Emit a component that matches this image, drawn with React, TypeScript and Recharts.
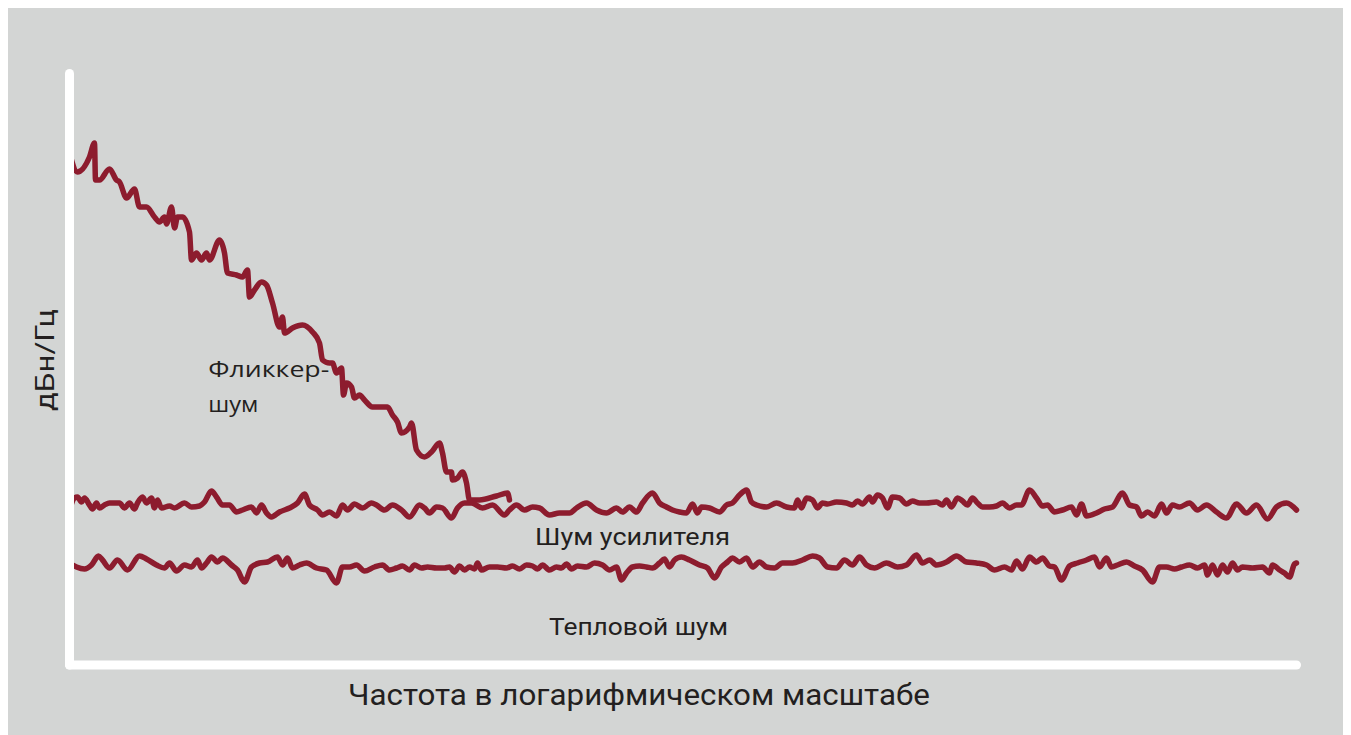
import { Line, LineChart, XAxis, YAxis } from "recharts";

// x: position along the log-frequency axis, y: noise level (arbitrary units)
const flickerX = [
  0, 8, 20, 25, 26, 30, 40, 47, 50, 57, 65, 70, 77, 85, 90, 95, 97, 102, 105, 108,
  113, 120, 122, 127, 132, 137, 140, 150, 155, 158, 167, 173, 178, 180, 185, 192, 197, 203, 210, 213,
  215, 223, 233, 243, 250, 253, 260, 263, 267, 272, 274, 277, 282, 285, 290, 295, 303, 318, 323, 328,
  332, 340, 342, 347, 355, 362, 370, 373, 377, 382, 383, 388, 393, 397, 400, 410, 427, 438, 440,
];
const flickerY = [
  512, 493, 508, 522, 485, 485, 496, 485, 483, 467, 476, 458, 458, 448, 443, 448, 441, 458, 437, 448,
  448, 433, 405, 412, 405, 412, 405, 425, 412, 392, 390, 388, 395, 368, 375, 383, 380, 362, 338, 348,
  332, 337, 340, 333, 322, 305, 302, 302, 292, 297, 270, 282, 278, 267, 270, 265, 258, 258, 250, 243,
  232, 238, 242, 215, 208, 213, 222, 212, 193, 193, 185, 187, 193, 182, 165, 165, 169, 172, 165,
];

const ampX = [
  0, 5, 8, 12, 15, 20, 23, 27, 30, 35, 40, 50, 55, 60, 65, 68, 73, 77, 82, 85,
  88, 92, 100, 105, 115, 122, 130, 135, 142, 147, 153, 160, 167, 173, 182, 187, 192, 197, 202, 210,
  220, 228, 235, 240, 248, 253, 260, 267, 273, 278, 285, 293, 302, 307, 315, 323, 332, 340, 350, 355,
  360, 367, 373, 382, 388, 395, 402, 413, 423, 435, 440, 447, 455, 463, 470, 480, 490, 500, 507, 517,
  527, 537, 547, 553, 560, 567, 573, 583, 590, 597, 603, 610, 617, 623, 628, 632, 640, 650, 657, 663,
  670, 677, 682, 687, 697, 707, 717, 725, 728, 732, 737, 743, 748, 753, 758, 767, 777, 783, 788, 793,
  800, 803, 808, 813, 818, 823, 830, 837, 843, 850, 857, 867, 873, 877, 882, 888, 893, 898, 903, 908,
  913, 920, 927, 933, 940, 947, 952, 960, 967, 973, 978, 985, 993, 1002, 1007, 1012, 1017, 1027, 1035, 1043,
  1053, 1060, 1067, 1072, 1078, 1085, 1092, 1097, 1103, 1110, 1120, 1128, 1137, 1147, 1157, 1167, 1177, 1187, 1198, 1207,
  1217, 1227,
];
const ampY = [
  155, 167, 168, 163, 167, 160, 156, 162, 157, 160, 162, 162, 157, 162, 156, 162, 168, 162, 167, 157,
  165, 157, 159, 157, 162, 158, 159, 163, 174, 168, 160, 160, 153, 155, 158, 152, 160, 152, 148, 153,
  157, 162, 171, 160, 155, 150, 153, 149, 160, 155, 161, 157, 162, 160, 155, 160, 155, 148, 160, 157,
  152, 158, 157, 147, 157, 162, 162, 157, 160, 150, 155, 160, 155, 158, 157, 150, 152, 152, 157, 162,
  155, 152, 157, 153, 158, 153, 162, 172, 162, 158, 155, 153, 152, 161, 152, 158, 157, 153, 160, 162,
  170, 175, 163, 160, 158, 162, 158, 157, 165, 157, 167, 165, 157, 162, 161, 163, 162, 160, 164, 161,
  168, 163, 170, 167, 157, 168, 167, 161, 164, 162, 162, 163, 160, 165, 158, 167, 164, 160, 167, 162,
  158, 158, 159, 162, 157, 160, 160, 175, 167, 159, 160, 153, 155, 158, 150, 161, 149, 152, 156, 158,
  172, 160, 158, 149, 153, 149, 161, 152, 160, 158, 162, 155, 160, 153, 147, 161, 152, 160, 146, 158,
  162, 155,
];

const thermalX = [
  0, 7, 15, 22, 29, 33, 40, 48, 58, 70, 77, 87, 95, 100, 107, 115, 122, 128, 132, 137,
  142, 148, 153, 162, 168, 175, 182, 190, 198, 208, 213, 218, 223, 230, 237, 247, 257, 267, 273, 280,
  287, 295, 305, 313, 320, 327, 333, 340, 345, 352, 358, 367, 375, 380, 385, 390, 395, 400, 405, 408,
  412, 420, 428, 437, 443, 450, 457, 463, 468, 473, 480, 487, 492, 497, 502, 508, 517, 525, 533, 540,
  547, 552, 557, 563, 570, 577, 583, 590, 595, 600, 605, 612, 620, 630, 638, 645, 652, 658, 663, 670,
  677, 683, 690, 697, 705, 713, 723, 733, 743, 750, 758, 767, 775, 783, 790, 797, 805, 817, 828, 837,
  847, 853, 860, 867, 877, 887, 897, 907, 917, 925, 935, 942, 947, 953, 960, 967, 973, 980, 985, 992,
  1000, 1008, 1017, 1025, 1030, 1037, 1042, 1048, 1057, 1065, 1073, 1083, 1090, 1097, 1105, 1112, 1120, 1128, 1135, 1138,
  1143, 1148, 1153, 1158, 1163, 1168, 1173, 1183, 1193, 1200, 1203, 1210, 1215, 1220, 1225, 1227,
];
const thermalY = [
  102, 98, 96, 100, 109, 105, 97, 105, 95, 109, 106, 100, 97, 102, 94, 100, 98, 105, 97, 102,
  108, 103, 107, 100, 95, 83, 98, 102, 103, 108, 100, 107, 97, 100, 102, 97, 95, 82, 98, 98,
  100, 94, 98, 100, 95, 97, 99, 95, 100, 97, 98, 97, 97, 98, 93, 99, 95, 98, 96, 102,
  95, 98, 98, 97, 99, 96, 100, 99, 96, 100, 95, 98, 97, 101, 96, 99, 98, 102, 100, 95,
  98, 85, 92, 98, 99, 98, 97, 102, 106, 98, 105, 108, 105, 100, 97, 87, 98, 103, 107, 103,
  107, 98, 103, 98, 97, 102, 102, 105, 109, 107, 98, 97, 105, 100, 108, 100, 97, 102, 98, 100,
  110, 102, 105, 100, 103, 109, 103, 102, 100, 95, 98, 95, 104, 96, 108, 103, 107, 99, 98, 85,
  99, 102, 105, 108, 98, 107, 98, 100, 103, 99, 95, 83, 98, 98, 96, 98, 100, 97, 100, 90,
  100, 90, 100, 93, 102, 95, 98, 97, 98, 92, 100, 95, 92, 88, 101, 102,
];

const zip = (xs: number[], ys: number[]) => xs.map((x, i) => ({ x, y: ys[i] }));

const RED = "#8d1c2e";
const INK = "#231f20";

export default function App() {
  const lineProps = {
    type: "monotoneX" as const,
    dataKey: "y",
    stroke: RED,
    strokeWidth: 5.5,
    strokeLinecap: "round" as const,
    strokeLinejoin: "round" as const,
    dot: false,
    activeDot: false,
    isAnimationActive: false,
  };
  const axisLine = { stroke: "#ffffff", strokeWidth: 9, strokeLinecap: "round" as const };

  return (
    <div style={{ position: "relative", width: 1343, height: 727, background: "#d3d5d4" }}>
      <LineChart
        width={1343}
        height={727}
        margin={{ top: 65.5, right: 54.5, bottom: 40, left: 1.5 }}
      >
        <XAxis
          type="number"
          dataKey="x"
          domain={[0, 1227]}
          tick={false}
          tickLine={false}
          axisLine={axisLine}
          height={30}
        />
        <YAxis
          type="number"
          domain={[0, 591.5]}
          tick={false}
          tickLine={false}
          axisLine={axisLine}
          width={60}
        />
        <Line {...lineProps} data={zip(thermalX, thermalY)} />
        <Line {...lineProps} data={zip(ampX, ampY)} />
        <Line {...lineProps} data={zip(flickerX, flickerY)} />
      </LineChart>
      <svg
        width={1343}
        height={727}
        style={{ position: "absolute", left: 0, top: 0, pointerEvents: "none" }}
      >
        <text
          transform="translate(46 352) rotate(-90)"
          textAnchor="middle"
          fontFamily="Roboto"
          fontSize={26}
          fill={INK}
          textLength={102}
          lengthAdjust="spacingAndGlyphs"
        >
          дБн/Гц
        </text>
        <text
          x={631}
          y={697}
          textAnchor="middle"
          fontFamily="Roboto"
          fontSize={30}
          fill={INK}
          textLength={582}
          lengthAdjust="spacingAndGlyphs"
        >
          Частота в логарифмическом масштабе
        </text>
        <text
          x={624.5}
          y={537}
          textAnchor="middle"
          fontFamily="Roboto"
          fontSize={24}
          fill={INK}
          textLength={195}
          lengthAdjust="spacingAndGlyphs"
        >
          Шум усилителя
        </text>
        <text
          x={630.5}
          y={627}
          textAnchor="middle"
          fontFamily="Roboto"
          fontSize={24}
          fill={INK}
          textLength={179}
          lengthAdjust="spacingAndGlyphs"
        >
          Тепловой шум
        </text>
        <text x={200.3} y={368.7} fontFamily="Open Sans" fontSize={21.5} fill={INK} textLength={121} lengthAdjust="spacingAndGlyphs">
          Фликкер-
        </text>
        <text x={200.3} y={403.7} fontFamily="Open Sans" fontSize={21.5} fill={INK} textLength={50} lengthAdjust="spacingAndGlyphs">
          шум
        </text>
      </svg>
    </div>
  );
}
